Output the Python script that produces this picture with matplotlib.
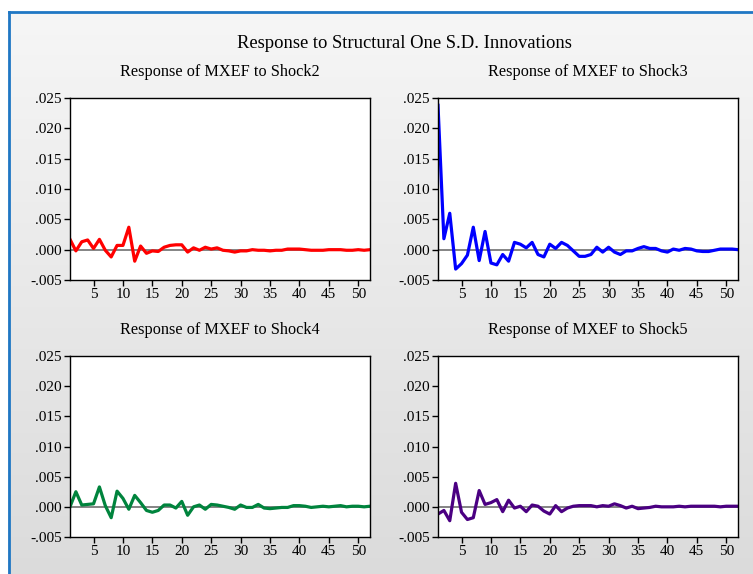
import numpy as np
import matplotlib.pyplot as plt
from matplotlib.ticker import FuncFormatter

plt.rcParams['font.family'] = ['Liberation Serif', 'DejaVu Serif']
plt.rcParams['font.size'] = 11

periods = np.arange(1, 53)

shock2 = [0.0017, -0.0002, 0.0013, 0.0016, 0.0002, 0.0017, -0.0001, -0.0012, 0.0007, 0.0007,
          0.0037, -0.0019, 0.0006, -0.0006, -0.0002, -0.0003, 0.0004, 0.0007, 0.0008, 0.0008,
          -0.0004, 0.0003, -0.0001, 0.0004, 0.0001, 0.0003, -0.0001, -0.0002, -0.0004, -0.0002,
          -0.0002, 0.0000, -0.0001, -0.0001, -0.0002, -0.0001, -0.0001, 0.0001, 0.0001, 0.0001,
          0.0000, -0.0001, -0.0001, -0.0001, 0.0000, 0.0000, 0.0000, -0.0001, -0.0001, 0.0000,
          -0.0001, 0.0000]

shock3 = [0.0238, 0.0018, 0.0060, -0.0032, -0.0023, -0.0009, 0.0037, -0.0018, 0.0030, -0.0022,
          -0.0025, -0.0008, -0.0019, 0.0012, 0.0009, 0.0003, 0.0012, -0.0008, -0.0012, 0.0009,
          0.0002, 0.0012, 0.0007, -0.0002, -0.0011, -0.0011, -0.0008, 0.0004, -0.0004, 0.0004,
          -0.0004, -0.0008, -0.0002, -0.0002, 0.0002, 0.0005, 0.0002, 0.0002, -0.0002, -0.0004,
          0.0001, -0.0001, 0.0002, 0.0001, -0.0002, -0.0003, -0.0003, -0.0001, 0.0001, 0.0001,
          0.0001, 0.0000]

shock4 = [0.0000, 0.0025, 0.0003, 0.0004, 0.0005, 0.0033, 0.0002, -0.0018, 0.0026, 0.0014,
          -0.0004, 0.0019, 0.0007, -0.0006, -0.0009, -0.0006, 0.0003, 0.0003, -0.0002, 0.0009,
          -0.0014, 0.0000, 0.0003, -0.0004, 0.0004, 0.0003, 0.0001, -0.0001, -0.0004, 0.0003,
          -0.0001, -0.0001, 0.0004, -0.0002, -0.0003, -0.0002, -0.0001, -0.0001, 0.0002, 0.0002,
          0.0001, -0.0001, 0.0000, 0.0001, 0.0000, 0.0001, 0.0002, 0.0000, 0.0001, 0.0001,
          0.0000, 0.0001]

shock5 = [-0.0012, -0.0006, -0.0023, 0.0039, -0.0009, -0.0021, -0.0018, 0.0027, 0.0004, 0.0007,
          0.0012, -0.0008, 0.0011, -0.0002, 0.0001, -0.0008, 0.0003, 0.0001, -0.0007, -0.0012,
          0.0002, -0.0008, -0.0002, 0.0001, 0.0002, 0.0002, 0.0002, 0.0000, 0.0002, 0.0001,
          0.0005, 0.0002, -0.0002, 0.0001, -0.0003, -0.0002, -0.0001, 0.0001, 0.0000, 0.0000,
          0.0000, 0.0001, 0.0000, 0.0001, 0.0001, 0.0001, 0.0001, 0.0001, 0.0000, 0.0001,
          0.0001, 0.0001]

panels = [
    ('Response of MXEF to Shock2', shock2, '#ff0000'),
    ('Response of MXEF to Shock3', shock3, '#0000ff'),
    ('Response of MXEF to Shock4', shock4, '#00843d'),
    ('Response of MXEF to Shock5', shock5, '#4b0082'),
]

W, H = 753, 574
fig = plt.figure(figsize=(W / 100, H / 100), dpi=100)
fig.patch.set_facecolor('white')

# фон рамки с вертикальным градиентом
bx0, by1 = 8, 11
bg = fig.add_axes([bx0 / W, 0, 1 - bx0 / W, 1 - by1 / H], zorder=-5)
grad = np.linspace(0.965, 0.86, 256).reshape(-1, 1)
bg.imshow(np.dstack([grad, grad, grad]), aspect='auto', extent=[0, 1, 0, 1])
bg.set_xlim(0, 1)
bg.set_ylim(0, 1)
bg.set_axis_off()
bg.plot([0.001, 0.001], [0, 0.999], color='#1f77c4', lw=2, clip_on=False)
bg.plot([0.001, 1], [0.999, 0.999], color='#1f77c4', lw=2, clip_on=False)

fig.text(404 / W, 1 - 43 / H, 'Response to Structural One S.D. Innovations',
         ha='center', va='center', fontsize=13.4)

# позиции осей в пикселях: (x0, x1, y_top, y_bottom)
boxes = [(70, 370, 98, 280), (438, 738, 98, 280),
         (70, 370, 356, 537), (438, 738, 356, 537)]

fmt = FuncFormatter(lambda v, p: ('-' if v < -1e-9 else '') + ('%.3f' % abs(v))[1:])

for (title, vals, col), (x0, x1, yt, yb) in zip(panels, boxes):
    ax = fig.add_axes([x0 / W, 1 - yb / H, (x1 - x0) / W, (yb - yt) / H])
    ax.set_facecolor('white')
    ax.axhline(0, color='#707070', lw=1.2, zorder=1)
    ax.plot(periods, vals, color=col, lw=2.3, zorder=2)
    ax.set_xlim(1, 52)
    ax.set_ylim(-0.005, 0.025)
    ax.set_xticks(np.arange(5, 51, 5))
    ax.set_yticks(np.arange(-0.005, 0.0251, 0.005))
    ax.yaxis.set_major_formatter(fmt)
    ax.tick_params(direction='out', length=4, width=1, labelsize=11, pad=2)
    for s in ax.spines.values():
        s.set_linewidth(1)
        s.set_color('black')
    fig.text((x0 + x1) / 2 / W, 1 - (yt - 26) / H, title,
             ha='center', va='center', fontsize=11.7)

fig.savefig('out.png', dpi=100)
